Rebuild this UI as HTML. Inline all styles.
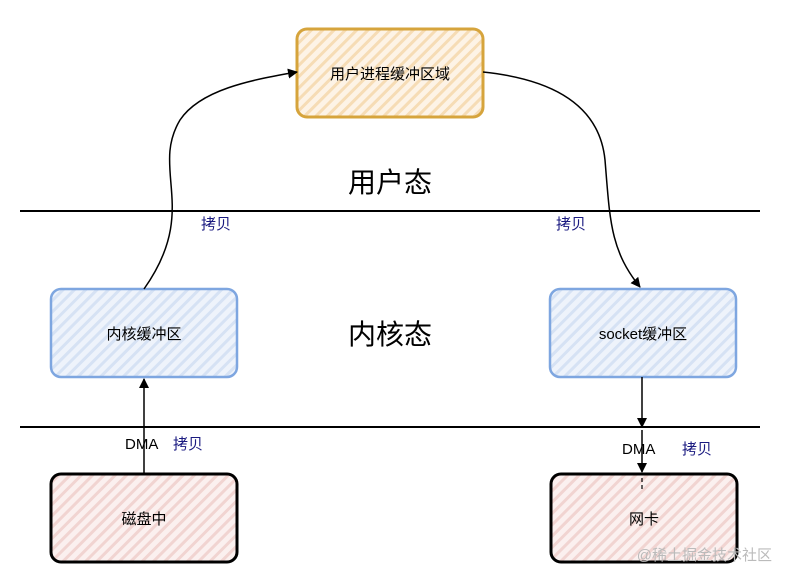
<!DOCTYPE html>
<html><head><meta charset="utf-8"><style>
html,body{margin:0;padding:0;background:#fff;}
svg{display:block;}
text{font-family:"Liberation Sans","Noto Sans CJK SC",sans-serif;}
</style></head><body>
<svg width="790" height="584" viewBox="0 0 790 584" xmlns="http://www.w3.org/2000/svg">
<defs>
<pattern id="py" width="8" height="8" patternUnits="userSpaceOnUse" patternTransform="rotate(45)"><rect width="8" height="8" fill="#fdf3e6"/><rect width="3" height="8" fill="#f6dcb5"/></pattern>
<pattern id="pb" width="8" height="8" patternUnits="userSpaceOnUse" patternTransform="rotate(45)"><rect width="8" height="8" fill="#eef3fb"/><rect width="3" height="8" fill="#d6e2f4"/></pattern>
<pattern id="pr" width="8" height="8" patternUnits="userSpaceOnUse" patternTransform="rotate(45)"><rect width="8" height="8" fill="#fbf0ef"/><rect width="3" height="8" fill="#f1d4d1"/></pattern>
<marker id="ar" markerWidth="10" markerHeight="10" refX="9" refY="5" orient="auto" markerUnits="userSpaceOnUse"><path d="M0,0 L10,5 L0,10 Z" fill="#000"/></marker>
</defs>
<line x1="20" y1="211" x2="760" y2="211" stroke="#000" stroke-width="2"/>
<line x1="20" y1="427" x2="760" y2="427" stroke="#000" stroke-width="2"/>
<rect x="297" y="29" width="186" height="88" rx="10" fill="url(#py)" stroke="#d6a43c" stroke-width="3"/>
<text x="390" y="79" font-size="15" text-anchor="middle">用户进程缓冲区域</text>
<rect x="51" y="289" width="186" height="88" rx="10" fill="url(#pb)" stroke="#7ea6e0" stroke-width="2.5"/>
<text x="144" y="339" font-size="15" text-anchor="middle">内核缓冲区</text>
<rect x="550" y="289" width="186" height="88" rx="10" fill="url(#pb)" stroke="#7ea6e0" stroke-width="2.5"/>
<text x="643" y="339" font-size="15" text-anchor="middle">socket缓冲区</text>
<rect x="51" y="474" width="186" height="88" rx="10" fill="url(#pr)" stroke="#000" stroke-width="3"/>
<text x="144" y="524" font-size="15" text-anchor="middle">磁盘中</text>
<rect x="551" y="474" width="186" height="88" rx="10" fill="url(#pr)" stroke="#000" stroke-width="3"/>
<text x="644" y="524" font-size="15" text-anchor="middle">网卡</text>
<text x="390" y="192" font-size="28" text-anchor="middle">用户态</text>
<text x="390" y="344" font-size="28" text-anchor="middle">内核态</text>
<path d="M144,289 C200,210 150,170 180,120 C200,90 250,80 297,72" fill="none" stroke="#000" stroke-width="1.5" marker-end="url(#ar)"/>
<path d="M483,72 C560,80 600,110 605,160 C610,220 610,250 640,287" fill="none" stroke="#000" stroke-width="1.5" marker-end="url(#ar)"/>
<path d="M144,474 L144,379" fill="none" stroke="#000" stroke-width="1.5" marker-end="url(#ar)"/>
<path d="M642,377 L642,427" fill="none" stroke="#000" stroke-width="1.5" marker-end="url(#ar)"/>
<path d="M642,430 L642,472" fill="none" stroke="#000" stroke-width="1.5" marker-end="url(#ar)"/>
<line x1="642" y1="478" x2="642" y2="492" stroke="#000" stroke-width="1.2" stroke-dasharray="4,3"/>
<text x="216" y="229" font-size="15" fill="#1a1a80" text-anchor="middle">拷贝</text>
<text x="571" y="229" font-size="15" fill="#1a1a80" text-anchor="middle">拷贝</text>
<text x="125" y="449" font-size="15">DMA</text>
<text x="173" y="449" font-size="15" fill="#1a1a80">拷贝</text>
<text x="622" y="454" font-size="15">DMA</text>
<text x="682" y="454" font-size="15" fill="#1a1a80">拷贝</text>
<text x="772" y="560" font-size="15" fill="#bbb" text-anchor="end">@稀土掘金技术社区</text>
</svg>
</body></html>
